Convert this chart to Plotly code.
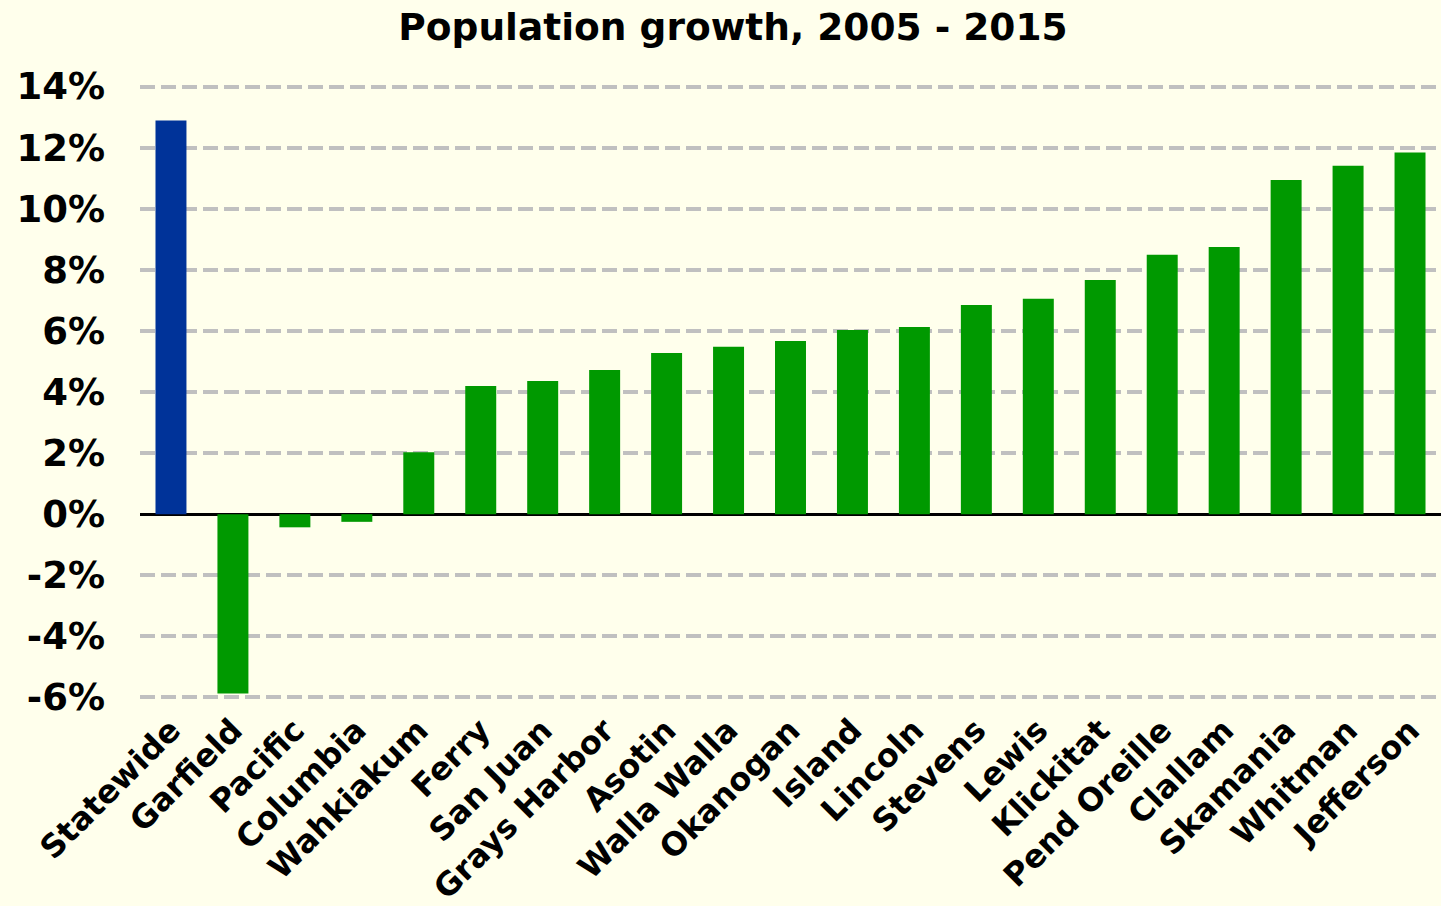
import plotly.graph_objects as go

counties = ["Statewide", "Garfield", "Pacific", "Columbia", "Wahkiakum", "Ferry", "San Juan",
            "Grays Harbor", "Asotin", "Walla Walla", "Okanogan", "Island", "Lincoln", "Stevens",
            "Lewis", "Klickitat", "Pend Oreille", "Clallam", "Skamania", "Whitman", "Jefferson"]
growth_pct = [12.89, -5.87, -0.43, -0.25, 2.03, 4.20, 4.36, 4.72, 5.28, 5.48, 5.67, 6.03, 6.13,
              6.85, 7.05, 7.67, 8.49, 8.75, 10.94, 11.41, 11.84]
bar_colors = ["#003399"] + ["#009900"] * (len(counties) - 1)
y_ticks = [-6, -4, -2, 0, 2, 4, 6, 8, 10, 12, 14]
y_tick_labels = [f"{v}%" for v in y_ticks]

FONT = "DejaVu Sans"
BG = "#FFFFEC"

fig = go.Figure(go.Bar(
    x=counties, y=growth_pct,
    marker=dict(color=bar_colors, line=dict(width=0)),
    width=0.5,
))

fig.update_layout(
    width=1441, height=906,
    paper_bgcolor=BG, plot_bgcolor=BG,
    margin=dict(l=140, r=0, t=85, b=207, autoexpand=False),
    showlegend=False,
    font=dict(family=FONT, color="#000000"),
    title=dict(text="<b>Population growth, 2005 - 2015</b>", x=733 / 1441, xanchor="center",
               y=1 - 27 / 906, yanchor="middle", yref="container",
               font=dict(family=FONT, size=37.5, color="#000000")),
    xaxis=dict(
        range=[-0.5, len(counties) - 0.5], automargin=False,
        tickangle=-45, showgrid=False, zeroline=False, showline=False, ticks="",
        tickfont=dict(family=FONT, size=32, color="#000000", weight="bold"),
        ticklabelstandoff=5,
    ),
    yaxis=dict(
        range=[-6.05, 14.05], tickvals=y_ticks, ticktext=y_tick_labels, automargin=False,
        showgrid=True, gridcolor="#C0C0C0", gridwidth=4, griddash="15px,6px",
        zeroline=True, zerolinecolor="#000000", zerolinewidth=3,
        showline=False, ticks="",
        tickfont=dict(family=FONT, size=37, color="#000000", weight="bold"),
        ticklabelstandoff=34,
    ),
)

fig.write_html("out.html", config={"displayModeBar": False},
               post_script="document.body.style.margin='0';document.body.style.background='" + BG + "';")
